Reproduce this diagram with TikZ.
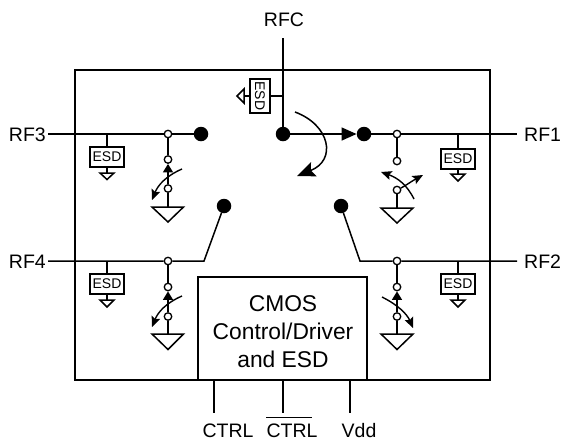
\documentclass[tikz,border=0pt]{standalone}
\usepackage{fontspec}
\setmainfont{Liberation Sans}
\usetikzlibrary{arrows.meta}
\tikzset{
  wire/.style={line width=1.5pt},
  frame/.style={draw,line width=1.8pt,inner sep=0pt},
  term/.style={circle,draw,fill=white,line width=1.3pt,minimum size=7.5pt,inner sep=0pt},
  contact/.style={circle,fill=black,minimum size=14.5pt,inner sep=0pt},
  esdbox/.style={draw,line width=1.5pt,fill=white,minimum width=34pt,minimum height=20pt,inner sep=0pt,font=\fontsize{14}{15}\selectfont},
  pinlabel/.style={font=\fontsize{19.5}{20}\selectfont,inner sep=0pt,anchor=base},
  gnd/.style={wire,fill=white,line join=miter},
  swtip/.style={wire,-{Triangle[length=8.5pt,width=10pt]}},
  turn/.style={line width=1.4pt,-{Stealth[length=10.5pt,width=9pt,inset=2pt]}},
  bigturn/.style={line width=1.5pt,-{Stealth[length=18pt,width=15pt,inset=3pt]}},
  overbar/.style={line width=0.8pt}
}
\begin{document}
\begin{tikzpicture}[x=1pt,y=-1pt]
\useasboundingbox (0,0) rectangle (561,440);
% package and driver
\node[frame,minimum width=415pt,minimum height=310pt] (pkg) at (282.5,225) {};
\node[frame,fill=white,minimum width=169pt,minimum height=103pt] (cmos) at (282.5,328.5) {};
\node[inner sep=0pt,align=center,anchor=base,font=\fontsize{22.8}{28}\selectfont] (cmostext) at (283,367) {CMOS\\Control/Driver\\and ESD};
% labels
\node[pinlabel] (rfc) at (284,26) {RFC};
\node[pinlabel,anchor=base east] (rf3) at (46,141) {RF3};
\node[pinlabel,anchor=base east] (rf4) at (46,268) {RF4};
\node[pinlabel,anchor=base west] (rf1) at (524,141) {RF1};
\node[pinlabel,anchor=base west] (rf2) at (524,268) {RF2};
\node[pinlabel] (ctrla) at (228,437) {CTRL};
\node[pinlabel] (ctrlb) at (292,437) {CTRL};
\node[pinlabel] (vdd) at (359,437) {Vdd};
\coordinate (barl) at (266,417.5);
\coordinate (barr) at (312,417.5);
\draw[overbar] (barl) -- (barr);
% free wire ends
\coordinate (rfcend) at (283,38);
\coordinate (rf3end) at (48,134);
\coordinate (rf4end) at (48,261);
\coordinate (rf1end) at (517,134);
\coordinate (rf2end) at (517,261);
\coordinate (pina) at (214,413);
\coordinate (pinb) at (283,413);
\coordinate (pinc) at (350,413);
\coordinate (pinatop) at (214,380);
\coordinate (pinbtop) at (283,380);
\coordinate (pinctop) at (350,380);
\coordinate (kneeL) at (204,261);
\coordinate (kneeR) at (360,261);
% contacts
\node[contact] (c0) at (283,134) {};
\node[contact] (c1) at (364,134) {};
\node[contact] (c2) at (341,206) {};
\node[contact] (c3) at (201,134) {};
\node[contact] (c4) at (224,206) {};
% terminals
\node[term] (j3) at (168,134) {};
\node[term] (u3) at (168,159.5) {};
\node[term] (l3) at (168,188.5) {};
\node[term] (j4) at (168,261) {};
\node[term] (u4) at (168,287) {};
\node[term] (l4) at (168,316.5) {};
\node[term] (j1) at (397,134) {};
\node[term] (u1) at (397,161) {};
\node[term] (l1) at (397,190) {};
\node[term] (j2) at (397,261) {};
\node[term] (u2) at (397,287) {};
\node[term] (l2) at (397,316.5) {};
% ESD blocks
\node[esdbox] (e3) at (107,157) {ESD};
\node[esdbox] (e4) at (107,284) {ESD};
\node[esdbox] (e1) at (458,159) {ESD};
\node[esdbox] (e2) at (458,284) {ESD};
\node[esdbox,rotate=-90] (e0) at (260,96) {ESD};
% main wires
\draw[wire] (rfcend) -- (c0);
\draw[wire,-{Triangle[length=15pt,width=13pt]}] (c0) -- (c1);
\draw[wire] (c1) -- (j1) -- (rf1end);
\draw[wire] (rf3end) -- (j3) -- (c3);
\draw[wire] (rf4end) -- (j4) -- (kneeL) -- (c4);
\draw[wire] (rf2end) -- (j2) -- (kneeR) -- (c2);
\draw[wire] (pinatop) -- (pina);
\draw[wire] (pinbtop) -- (pinb);
\draw[wire] (pinctop) -- (pinc);
% shunt arms and grounds
\coordinate (g3) at (168,207);
\coordinate (g4) at (168,334);
\coordinate (g1) at (397,208);
\coordinate (g2) at (397,334);
\draw[wire] (j3) -- (u3);
\draw[swtip] (l3) -- (u3);
\draw[wire] (l3) -- (g3);
\draw[gnd] (152,207) -- (183.5,207) -- (168,222) -- cycle;
\draw[wire] (j4) -- (u4);
\draw[swtip] (l4) -- (u4);
\draw[wire] (l4) -- (g4);
\draw[gnd] (152,334) -- (183.5,334) -- (168,349.5) -- cycle;
\draw[wire] (j1) -- (u1);
\draw[wire] (l1) -- (g1);
\draw[gnd] (381,208) -- (413,208) -- (397,223) -- cycle;
\draw[wire] (j2) -- (u2);
\draw[swtip] (l2) -- (u2);
\draw[wire] (l2) -- (g2);
\draw[gnd] (381,334) -- (413,334) -- (397,349.5) -- cycle;
% ESD stems and small grounds
\coordinate (t3) at (107,134);
\coordinate (t4) at (107,261);
\coordinate (t1) at (458,134);
\coordinate (t2) at (458,261);
\coordinate (t0) at (283,96);
\coordinate (s3) at (107,173);
\coordinate (s4) at (107,300);
\coordinate (s1) at (458,174);
\coordinate (s2) at (458,300);
\coordinate (s0) at (244,96);
\draw[wire] (t3) -- (e3) -- (s3);
\draw[wire] (t4) -- (e4) -- (s4);
\draw[wire] (t1) -- (e1) -- (s1);
\draw[wire] (t2) -- (e2) -- (s2);
\draw[wire] (t0) -- (e0) -- (s0);
\draw[gnd] (100,173) -- (114,173) -- (107,179.5) -- cycle;
\draw[gnd] (100,300) -- (114,300) -- (107,307) -- cycle;
\draw[gnd] (451,174) -- (465,174) -- (458,181) -- cycle;
\draw[gnd] (451,300) -- (465,300) -- (458,307) -- cycle;
\draw[gnd] (244,89) -- (244,103) -- (237,96) -- cycle;
% moving arrows
\draw[bigturn] (295,112) .. controls (330,125) and (337,160) .. (297,176);
\draw[turn] (182,169) .. controls (166,176) and (158,185) .. (152,200);
\draw[turn] (182,296) .. controls (166,303) and (158,312) .. (152,327);
\draw[turn] (414,199) .. controls (407,185) and (398,178) .. (381,172);
\draw[turn] (l1) .. controls (405,186) and (412,181) .. (423,175);
\draw[turn] (382,297) .. controls (398,305) and (407,314) .. (413,328);
\end{tikzpicture}
\end{document}
